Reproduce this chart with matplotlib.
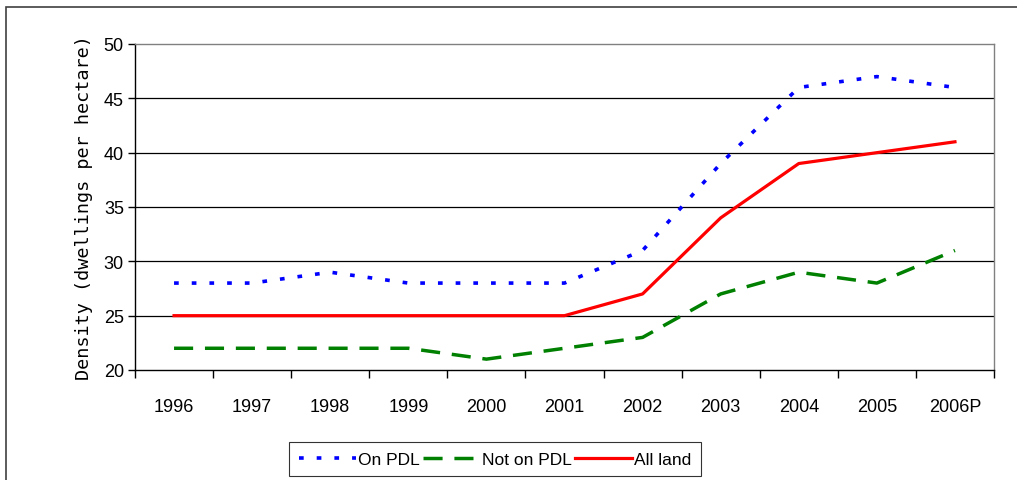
import matplotlib.pyplot as plt
from matplotlib.patches import Rectangle
import numpy as np

plt.rcParams['font.family'] = ['Liberation Sans', 'DejaVu Sans']

years = ['1996', '1997', '1998', '1999', '2000', '2001',
         '2002', '2003', '2004', '2005', '2006P']
on_pdl = [28, 28, 29, 28, 28, 28, 31, 39, 46, 47, 46]
not_on_pdl = [22, 22, 22, 22, 21, 22, 23, 27, 29, 28, 31]
all_land = [25, 25, 25, 25, 25, 25, 27, 34, 39, 40, 41]

fig = plt.figure(figsize=(10.17, 4.81), dpi=100)
ax = fig.add_axes([135 / 1017, 1 - 371 / 481, (994 - 135) / 1017, (371 - 45) / 481])

x = np.arange(len(years))
ax.plot(x, on_pdl, color='#0000ff', lw=2.6, linestyle=(0, (1.3, 3.6)),
        dash_capstyle='butt', label='On PDL')
ax.plot(x, not_on_pdl, color='#008000', lw=2.5, linestyle=(0, (5.5, 3.4)),
        dash_capstyle='butt', label='Not on PDL')
ax.plot(x, all_land, color='#ff0000', lw=2.3, label='All land')

ax.set_xlim(-0.5, len(years) - 0.5)
ax.set_ylim(20, 50)
ax.set_yticks(range(20, 51, 5))
for v in range(25, 50, 5):
    ax.axhline(v, color='black', lw=0.9, zorder=0)

ax.set_xticks(x)
ax.set_xticklabels(years, fontsize=13)
ax.set_xticks(np.arange(-0.5, len(years)), minor=True)
ax.tick_params(axis='x', which='major', length=0, pad=20)
ax.tick_params(axis='x', which='minor', length=6, width=1, color='black')
ax.tick_params(axis='y', labelsize=13, length=5, width=1, pad=3)

ax.spines['left'].set_color('black')
ax.spines['bottom'].set_color('black')
ax.spines['top'].set_color('#808080')
ax.spines['right'].set_color('#808080')
for s in ax.spines.values():
    s.set_linewidth(1)

ax.set_ylabel('Density (dwellings per hectare)', fontsize=13.3,
              family='DejaVu Sans Mono', labelpad=8)

leg = fig.legend(loc='center', bbox_to_anchor=(495 / 1017, 1 - 460 / 481),
                 ncol=3, fontsize=12.5, frameon=True, fancybox=False,
                 edgecolor='black', handlelength=3.3, handletextpad=0.1,
                 columnspacing=0.2, borderpad=0.55, borderaxespad=0)
leg.get_frame().set_linewidth(0.8)

# outer chart border, open to the right and bottom
fig.patches.append(Rectangle((6 / 1017, -0.1), 1.2, 1 - 8 / 481 + 0.1,
                             transform=fig.transFigure, fill=False,
                             edgecolor='#404040', lw=1.2))

fig.savefig('out.png', dpi=100)
